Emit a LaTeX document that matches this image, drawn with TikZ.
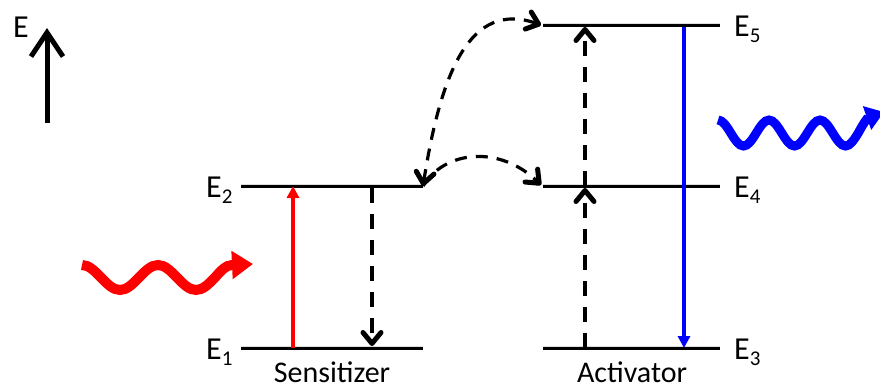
\documentclass[tikz,border=0pt]{standalone}
\usepackage{fontspec}
\setmainfont{Carlito}
\usetikzlibrary{arrows.meta}
\newcommand\lsub[1]{\raisebox{-6pt}{\fontsize{21}{21}\selectfont #1}}

\begin{document}
\begin{tikzpicture}[x=1pt,y=-1pt,
  level/.style={line width=3pt, black},
  lvlshadow/.style={line width=4pt, black!13, shift={(1.5,3.5)}},
  lvllabel/.style={font=\fontsize{32}{32}\selectfont, inner sep=0pt, anchor=base west},
  caption/.style={font=\fontsize{30}{30}\selectfont, inner sep=0pt, anchor=base},
  barb/.tip={Straight Barb[length=11pt,width=18pt,line width=5pt,round]},
  dashedarrow/.style={line width=3.2pt, dash pattern=on 15pt off 11pt, -barb},
  curvearrow/.style={line width=3.2pt, dash pattern=on 12pt off 9pt, -barb},
  solidarrow/.style={line width=3.4pt, -{Triangle[length=12pt,width=12pt]}},
  wave/.style={line width=10pt, line cap=butt}
]
\useasboundingbox (0,0) rectangle (880,389);

% energy axis
\coordinate (Ebot) at (47,123);
\coordinate (Etop) at (47,28);
\draw[line width=5pt, -{Straight Barb[length=24pt,width=32pt,line width=5pt]}] (Ebot) -- (Etop);
\node[lvllabel] (Elab) at (13,37) {E};

% sensitizer levels
\coordinate (E1a) at (241,348); \coordinate (E1b) at (423,348);
\coordinate (E2a) at (241,186); \coordinate (E2b) at (423,186);
% activator levels
\coordinate (E3a) at (543,348); \coordinate (E3b) at (720,348);
\coordinate (E4a) at (543,186); \coordinate (E4b) at (720,186);
\coordinate (E5a) at (543,25);  \coordinate (E5b) at (720,25);

\foreach \a/\b in {E1a/E1b,E2a/E2b,E3a/E3b,E4a/E4b,E5a/E5b}{
  \draw[lvlshadow] (\a) -- (\b);
}
\foreach \a/\b in {E1a/E1b,E2a/E2b,E3a/E3b,E4a/E4b,E5a/E5b}{
  \draw[level] (\a) -- (\b);
}

% level labels
\node[lvllabel] (lE1) at (206,359) {E\lsub{1}};
\node[lvllabel] (lE2) at (206,197) {E\lsub{2}};
\node[lvllabel] (lE3) at (734,359) {E\lsub{3}};
\node[lvllabel] (lE4) at (734,197) {E\lsub{4}};
\node[lvllabel] (lE5) at (734,36)  {E\lsub{5}};

\node[caption] (sens) at (332,382) {Sensitizer};
\node[caption] (act)  at (632,382) {Activator};

% sensitizer transitions
\coordinate (redlo) at (293,348); \coordinate (redhi) at (293,186);
\draw[solidarrow, red] (redlo) -- (redhi);
\coordinate (relhi) at (372,188); \coordinate (rello) at (372,346);
\draw[dashedarrow] (relhi) -- (rello);

% energy transfer
\coordinate (tstart) at (423,186);
\coordinate (tE5) at (541,25);
\coordinate (tE4) at (541,185);
\draw[curvearrow, barb-barb]
  (tstart) .. controls (441,72) and (470,0) .. (tE5);
\draw[curvearrow] (tstart) .. controls (445,150) and (500,145) .. (tE4);

% activator transitions
\coordinate (up1lo) at (585,348); \coordinate (up1hi) at (585,188);
\coordinate (up2lo) at (585,186); \coordinate (up2hi) at (585,27);
\draw[dashedarrow] (up1lo) -- (up1hi);
\draw[dashedarrow] (up2lo) -- (up2hi);
\coordinate (bluehi) at (684,27); \coordinate (bluelo) at (684,348);
\draw[solidarrow, blue] (bluehi) -- (bluelo);

% incoming photon
\coordinate (rw0) at (82,265);
\coordinate (rwtip) at (253,264);
\draw[wave, red, -{Triangle[length=21pt,width=27pt]}]
  (rw0) cos (101,277.5) sin (120,290) cos (139,277.5) sin (158,265)
  cos (177,277.5) sin (196,290) cos (215,277.5) sin (232,265) -- (rwtip);

% emitted photon
\coordinate (bw0) at (718,120);
\coordinate (bwtip) at (884,112);
\draw[wave, blue, line width=9pt, -{Triangle[length=18pt,width=24pt]}]
  (bw0) cos (730.75,133) sin (743.5,146) cos (756.25,133) sin (769,120)
  cos (781.75,133) sin (794.5,146) cos (807.25,133) sin (820,120)
  cos (832.75,133) sin (845.5,146) cos (858.25,133)
  .. controls (862,126) and (867,118) .. (bwtip);
\end{tikzpicture}
\end{document}
